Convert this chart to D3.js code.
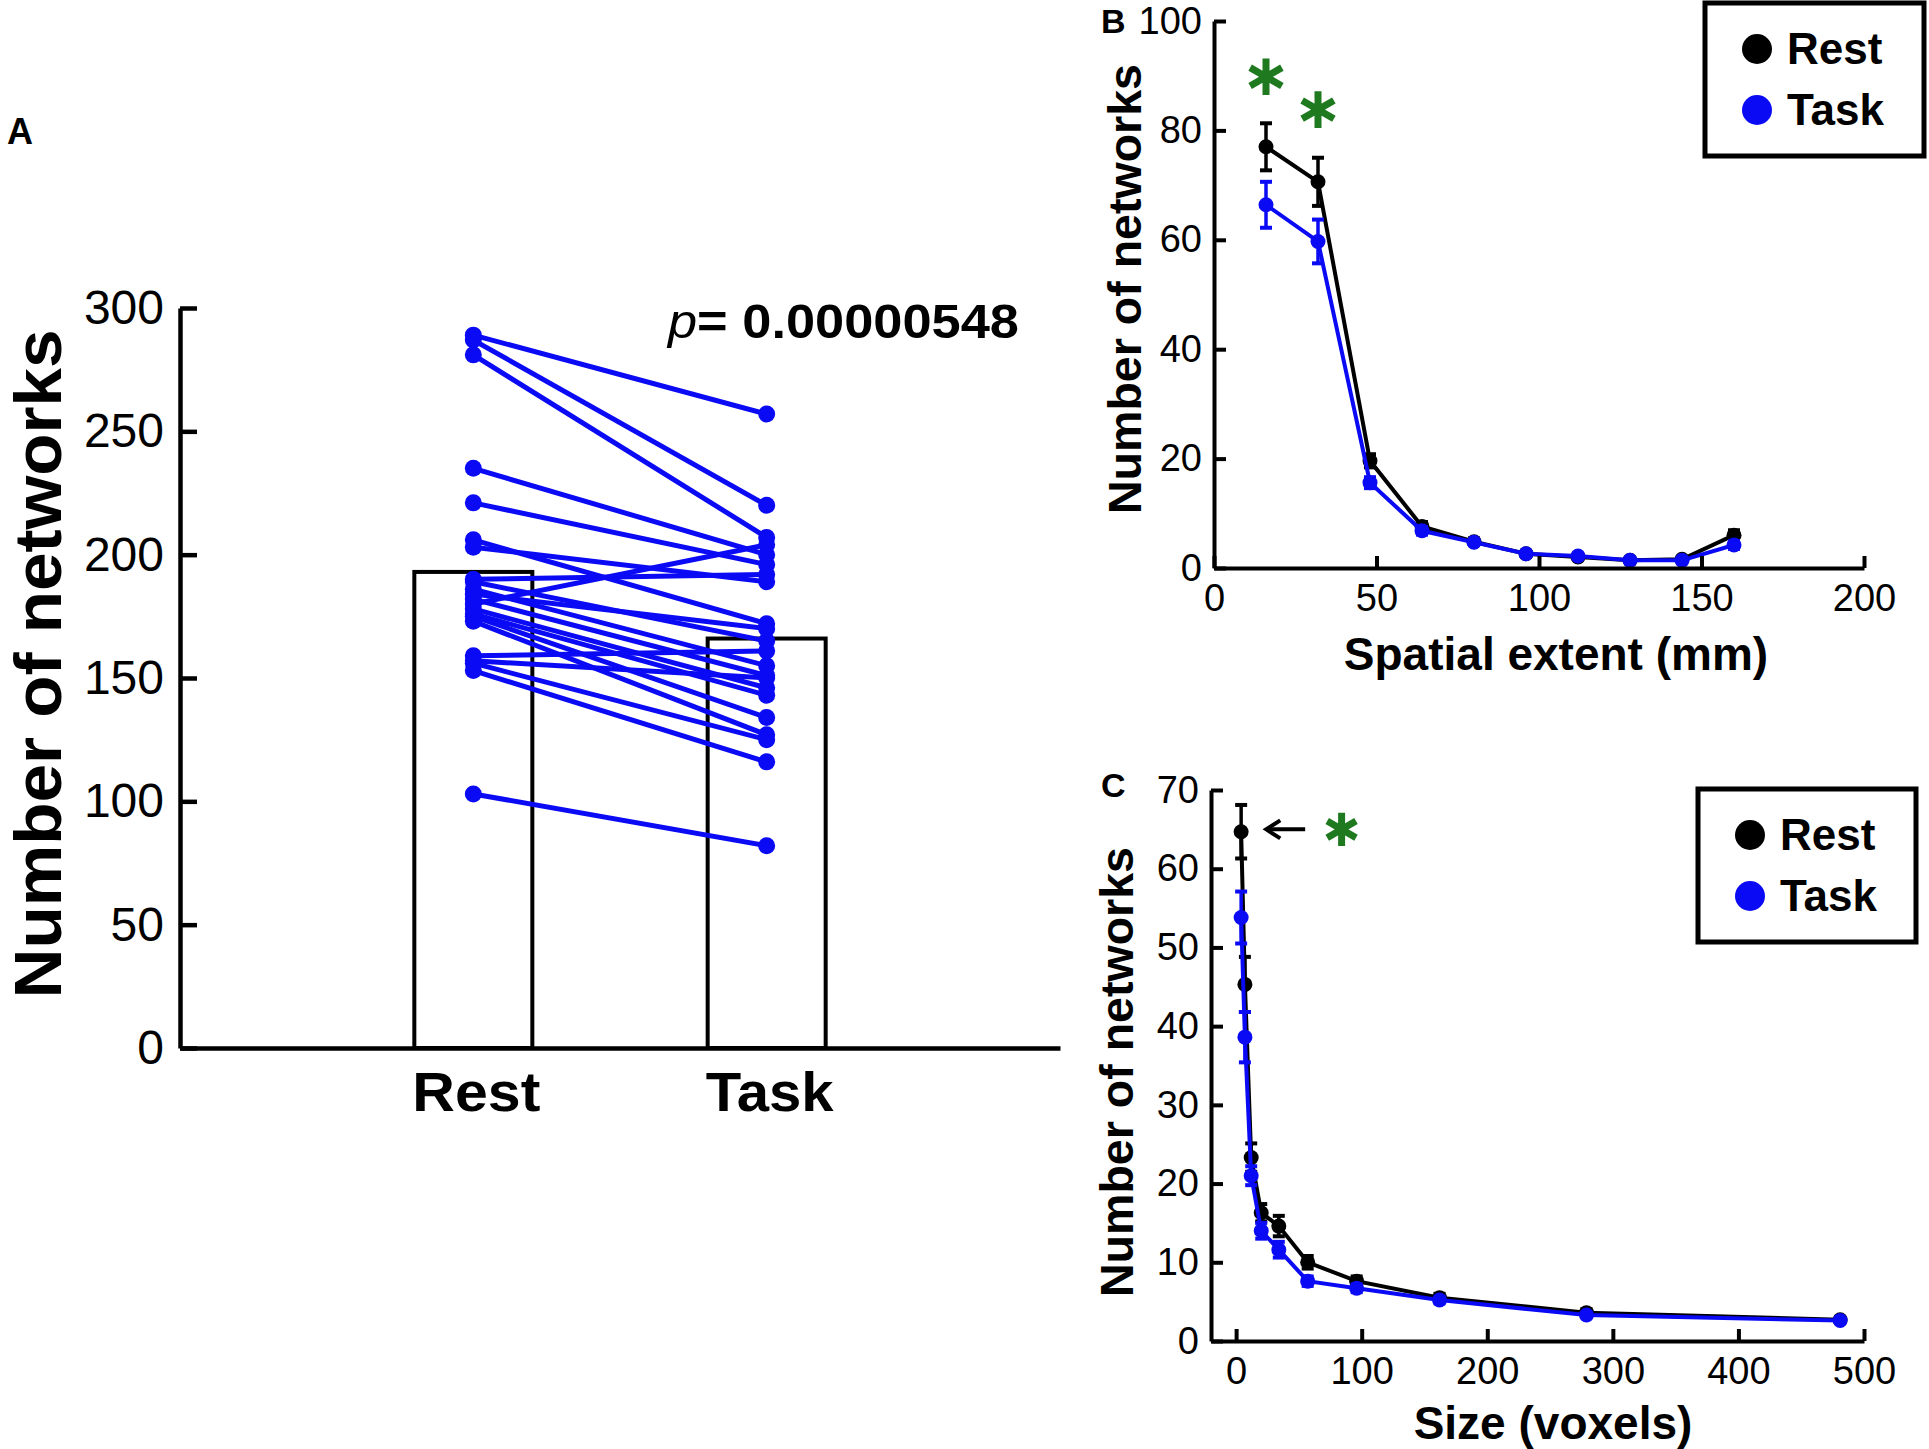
<!DOCTYPE html>
<html>
<head>
<meta charset="utf-8">
<script src="https://cdn.jsdelivr.net/npm/d3@7"></script>
<style>
  body { margin: 0; background: #fff; }
  text { font-family: "Liberation Sans", Arial, sans-serif; }
</style>
</head>
<body>
<div id="chart"></div>
<script>
// ---- panel A data (paired subjects, rest -> task) ----
var categoriesA = ["Rest", "Task"];
var barMeansA = [193, 166];
var restA = [289, 287, 281, 235, 221, 206, 203, 190, 189, 186, 184, 182, 180, 178, 176, 175, 173, 159, 157, 156, 153, 103];
var taskA = [257, 220, 207, 200, 196, 172, 189, 192, 165, 155, 170, 151, 204, 146, 143, 134, 127, 161, 150, 125, 116, 82];
var ticksA = [0, 50, 100, 150, 200, 250, 300];
var pText = "= 0.00000548";

// ---- panel B data (spatial extent) ----
var extentB = [16, 32, 48, 64, 80, 96, 112, 128, 144, 160];
var restB = [77.0, 70.6, 19.6, 7.6, 4.8, 2.6, 2.0, 1.4, 1.6, 6.0];
var restErrB = [4.3, 4.4, 1.2, 0.8, 0.6, 0.5, 0.4, 0.4, 0.4, 0.9];
var taskB = [66.4, 59.7, 15.6, 6.8, 4.7, 2.6, 2.2, 1.4, 1.4, 4.2];
var taskErrB = [4.2, 4.0, 1.0, 0.7, 0.5, 0.4, 0.4, 0.3, 0.3, 0.7];
var xTicksB = [0, 50, 100, 150, 200];
var yTicksB = [0, 20, 40, 60, 80, 100];
var starsB = [[16, 89.8], [32, 83.8]];

// ---- panel C data (size in voxels) ----
var sizeC = [4, 7, 12, 20, 34, 57, 96, 162, 279, 481];
var restC = [64.7, 45.3, 23.3, 16.3, 14.6, 10.0, 7.6, 5.5, 3.6, 2.7];
var restErrC = [3.4, 3.5, 1.8, 1.1, 1.3, 0.8, 0.6, 0.5, 0.4, 0.3];
var taskC = [53.8, 38.6, 21.0, 14.0, 11.6, 7.6, 6.7, 5.2, 3.3, 2.6];
var taskErrC = [3.3, 3.2, 1.2, 1.0, 1.0, 0.6, 0.5, 0.4, 0.3, 0.3];
var xTicksC = [0, 100, 200, 300, 400, 500];
var yTicksC = [0, 10, 20, 30, 40, 50, 60, 70];
var starsC = [[84, 65]];

var blue = "#0a0af5";
var green = "#1f7a1f";

var svg = d3.select("#chart")
  .append("svg")
    .attr("width", 1929)
    .attr("height", 1449);

function styleAxis(g, fontSize, width) {
  g.attr("font-size", null).attr("font-family", null);
  g.select(".domain").attr("stroke", "black").attr("stroke-width", width);
  g.selectAll(".tick line").attr("stroke", "black").attr("stroke-width", width);
  g.selectAll(".tick text").attr("fill", "black").style("font-size", fontSize + "px");
}

// ================= Panel A =================
var ax = d3.scaleLinear().domain([0, 3]).range([180, 1060]);
var ay = d3.scaleLinear().domain([0, 300]).range([1048, 308]);

svg.append("text")
  .attr("x", 7).attr("y", 144)
  .style("font-size", "36px").style("font-weight", "bold")
  .text("A");

svg.selectAll(".barA")
  .data(barMeansA).enter()
  .append("rect")
    .attr("x", (d, i) => ax(i + 1) - 59)
    .attr("width", 118)
    .attr("y", d => ay(d))
    .attr("height", d => ay(0) - ay(d))
    .attr("fill", "white")
    .attr("stroke", "black")
    .attr("stroke-width", 4);

var pairs = restA.map((r, i) => [r, taskA[i]]);

svg.selectAll(".pairA")
  .data(pairs).enter()
  .append("line")
    .attr("x1", ax(1)).attr("x2", ax(2))
    .attr("y1", d => ay(d[0])).attr("y2", d => ay(d[1]))
    .attr("stroke", blue)
    .attr("stroke-width", 5);

svg.selectAll(".ptRestA")
  .data(restA).enter()
  .append("circle")
    .attr("cx", ax(1)).attr("cy", d => ay(d)).attr("r", 8.5)
    .attr("fill", blue);

svg.selectAll(".ptTaskA")
  .data(taskA).enter()
  .append("circle")
    .attr("cx", ax(2)).attr("cy", d => ay(d)).attr("r", 8.5)
    .attr("fill", blue);

svg.append("g")
  .attr("transform", "translate(" + ax(0) + ",0)")
  .call(d3.axisLeft(ay).tickValues(ticksA).tickSize(-17).tickSizeOuter(0).tickPadding(16))
  .call(g => styleAxis(g, 48, 4.5));

svg.append("g")
  .attr("transform", "translate(0," + ay(0) + ")")
  .call(d3.axisBottom(ax).tickValues([]).tickSizeOuter(0))
  .call(g => styleAxis(g, 48, 4.5));

svg.selectAll(".catA")
  .data(categoriesA).enter()
  .append("text")
    .attr("x", (d, i) => ax(i + 1) + 3)
    .attr("y", 1111)
    .attr("text-anchor", "middle")
    .attr("textLength", 128)
    .attr("lengthAdjust", "spacingAndGlyphs")
    .style("font-size", "55px").style("font-weight", "bold")
    .text(d => d);

svg.append("text")
  .attr("transform", "translate(61,664) rotate(-90)")
  .attr("text-anchor", "middle")
  .attr("textLength", 669)
  .attr("lengthAdjust", "spacingAndGlyphs")
  .style("font-size", "66px").style("font-weight", "bold")
  .text("Number of networks");

var pt = svg.append("text")
  .attr("x", 668).attr("y", 338)
  .attr("textLength", 351)
  .attr("lengthAdjust", "spacingAndGlyphs")
  .style("font-size", "48px");
pt.append("tspan").style("font-style", "italic").text("p");
pt.append("tspan").style("font-weight", "bold").text(pText);

// ================= Panels B and C =================
function drawLinePanel(o) {
  var g = svg.append("g");

  g.append("text")
    .attr("x", o.letterX).attr("y", o.letterY)
    .style("font-size", "34px").style("font-weight", "bold")
    .text(o.letter);

  var series = [
    { x: o.xs, y: o.rest, e: o.restErr, color: "black" },
    { x: o.xs, y: o.task, e: o.taskErr, color: blue }
  ];

  var line = d3.line()
    .x(d => o.x(d[0]))
    .y(d => o.y(d[1]));

  series.forEach(function (s) {
    var pts = s.x.map((v, i) => [v, s.y[i], s.e[i]]);
    g.append("path")
      .datum(pts)
      .attr("d", line)
      .attr("fill", "none")
      .attr("stroke", s.color)
      .attr("stroke-width", 4);

    var eb = g.selectAll(null).data(pts).enter().append("g");
    eb.append("line")
      .attr("x1", d => o.x(d[0])).attr("x2", d => o.x(d[0]))
      .attr("y1", d => o.y(d[1] - d[2])).attr("y2", d => o.y(d[1] + d[2]))
      .attr("stroke", s.color).attr("stroke-width", 3.5);
    [-1, 1].forEach(function (sign) {
      eb.append("line")
        .attr("x1", d => o.x(d[0]) - 6).attr("x2", d => o.x(d[0]) + 6)
        .attr("y1", d => o.y(d[1] + sign * d[2])).attr("y2", d => o.y(d[1] + sign * d[2]))
        .attr("stroke", s.color).attr("stroke-width", 4);
    });
    g.selectAll(null).data(pts).enter()
      .append("circle")
        .attr("cx", d => o.x(d[0])).attr("cy", d => o.y(d[1]))
        .attr("r", 7.5)
        .attr("fill", s.color);
  });

  g.append("g")
    .attr("transform", "translate(" + o.x.range()[0] + ",0)")
    .call(d3.axisLeft(o.y).tickValues(o.yTicks).tickSize(-12).tickSizeOuter(0).tickPadding(12))
    .call(a => styleAxis(a, 38, 4));

  g.append("g")
    .attr("transform", "translate(0," + o.y(0) + ")")
    .call(d3.axisBottom(o.x).tickValues(o.xTicks).tickSize(-12).tickSizeOuter(0).tickPadding(16))
    .call(a => styleAxis(a, 38, 4));

  g.append("text")
    .attr("x", o.xTitleX).attr("y", o.xTitleY)
    .attr("text-anchor", "middle")
    .style("font-size", "46px").style("font-weight", "bold")
    .text(o.xTitle);

  g.append("text")
    .attr("transform", "translate(" + o.yTitleX + "," + o.yTitleY + ") rotate(-90)")
    .attr("text-anchor", "middle")
    .attr("textLength", 450)
    .attr("lengthAdjust", "spacingAndGlyphs")
    .style("font-size", "46px").style("font-weight", "bold")
    .text("Number of networks");

  g.selectAll(null).data(o.stars).enter()
    .append("path")
      .attr("transform", d => "translate(" + o.x(d[0]) + "," + o.y(d[1]) + ")")
      .attr("d", d3.symbol().type(d3.symbolAsterisk).size(o.starSize))
      .attr("fill", "none")
      .attr("stroke", green)
      .attr("stroke-width", 7);

  var L = o.legend;
  g.append("rect")
    .attr("x", L.x).attr("y", L.y).attr("width", L.w).attr("height", L.h)
    .attr("fill", "white").attr("stroke", "black").attr("stroke-width", 5);
  [["Rest", "black"], ["Task", blue]].forEach(function (d, i) {
    var cy = L.y + 46 + i * 61;
    g.append("circle")
      .attr("cx", L.x + 52).attr("cy", cy).attr("r", 15)
      .attr("fill", d[1]);
    g.append("text")
      .attr("x", L.x + 82).attr("y", cy + 15)
      .style("font-size", "44px").style("font-weight", "bold")
      .text(d[0]);
  });

  return g;
}

var bx = d3.scaleLinear().domain([0, 200]).range([1214, 1864]);
var by = d3.scaleLinear().domain([0, 100]).range([568, 21]);

drawLinePanel({
  letter: "B", letterX: 1101, letterY: 33,
  x: bx, y: by, xs: extentB,
  rest: restB, restErr: restErrB, task: taskB, taskErr: taskErrB,
  xTicks: xTicksB, yTicks: yTicksB,
  xTitle: "Spatial extent (mm)", xTitleX: 1556, xTitleY: 670,
  yTitleX: 1141, yTitleY: 289,
  stars: starsB, starSize: 950,
  legend: { x: 1705, y: 3, w: 219, h: 153 }
});

var cxs = d3.scaleLinear().domain([-20, 500]).range([1211, 1864]);
var cys = d3.scaleLinear().domain([0, 70]).range([1341, 790]);

var gC = drawLinePanel({
  letter: "C", letterX: 1101, letterY: 797,
  x: cxs, y: cys, xs: sizeC,
  rest: restC, restErr: restErrC, task: taskC, taskErr: taskErrC,
  xTicks: xTicksC, yTicks: yTicksC,
  xTitle: "Size (voxels)", xTitleX: 1553, xTitleY: 1439,
  yTitleX: 1133, yTitleY: 1072,
  stars: starsC, starSize: 780,
  legend: { x: 1698, y: 789, w: 218, h: 153 }
});

// arrow pointing at the first rest point in C
var arrowFrom = [55, 65], arrowTo = [24, 65];
gC.append("line")
  .attr("x1", cxs(arrowFrom[0])).attr("y1", cys(arrowFrom[1]))
  .attr("x2", cxs(arrowTo[0]) + 3).attr("y2", cys(arrowTo[1]))
  .attr("stroke", "black").attr("stroke-width", 4);
gC.append("path")
  .attr("d", "M" + (cxs(arrowTo[0]) + 14) + "," + (cys(arrowTo[1]) - 9) +
             "L" + cxs(arrowTo[0]) + "," + cys(arrowTo[1]) +
             "L" + (cxs(arrowTo[0]) + 14) + "," + (cys(arrowTo[1]) + 9))
  .attr("fill", "none").attr("stroke", "black").attr("stroke-width", 4);
</script>
</body>
</html>
